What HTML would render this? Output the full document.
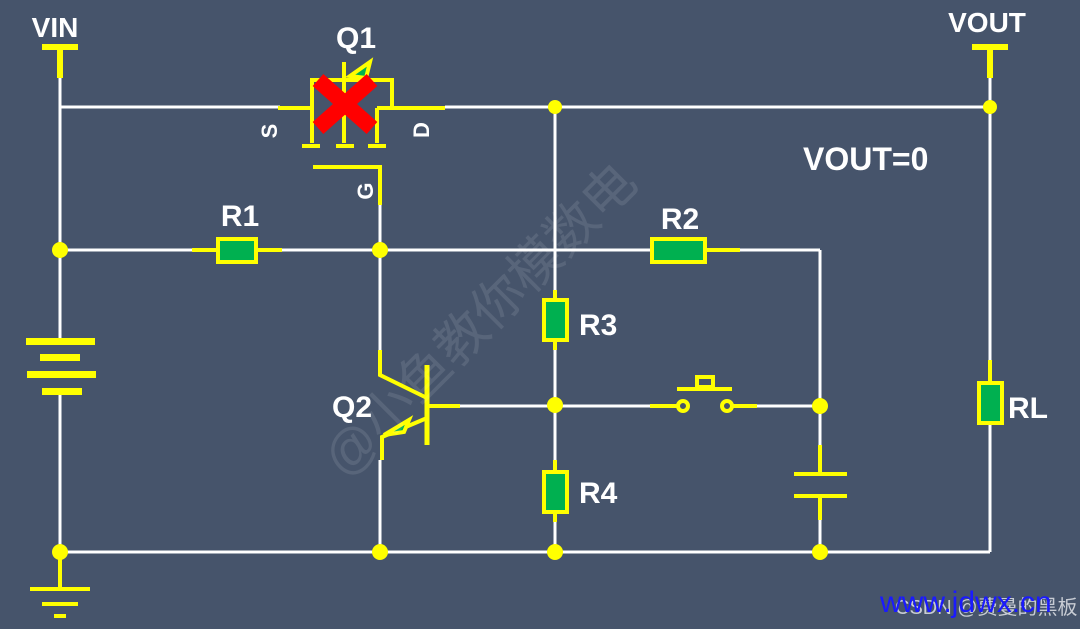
<!DOCTYPE html>
<html><head><meta charset="utf-8"><style>
html,body{margin:0;padding:0;background:#46546b;}
svg{display:block}
text{font-family:"Liberation Sans","Noto Sans CJK SC",sans-serif;font-weight:bold;fill:#fff}
</style></head><body>
<svg width="1080" height="629" viewBox="0 0 1080 629">
<rect width="1080" height="629" fill="#46546b"/>
<g stroke="#fff" stroke-width="3" fill="none">
<line x1="60" y1="107" x2="280" y2="107"/><line x1="445" y1="107" x2="990" y2="107"/>
<line x1="60" y1="75" x2="60" y2="340"/><line x1="60" y1="392" x2="60" y2="552"/>
<line x1="60" y1="552" x2="990" y2="552"/>
<line x1="60" y1="250" x2="192" y2="250"/><line x1="282" y1="250" x2="650" y2="250"/><line x1="740" y1="250" x2="820" y2="250"/>
<line x1="380" y1="205" x2="380" y2="350"/><line x1="380" y1="460" x2="380" y2="552"/>
<line x1="555" y1="107" x2="555" y2="290"/><line x1="555" y1="350" x2="555" y2="460"/><line x1="555" y1="522" x2="555" y2="552"/>
<line x1="460" y1="406" x2="650" y2="406"/><line x1="757" y1="406" x2="820" y2="406"/>
<line x1="820" y1="250" x2="820" y2="445"/><line x1="820" y1="520" x2="820" y2="552"/>
<line x1="990" y1="75" x2="990" y2="360"/><line x1="990" y1="425" x2="990" y2="552"/>
</g>
<g stroke="#ffff00" stroke-width="4" fill="none">
<line x1="42" y1="47" x2="78" y2="47" stroke-width="6"/><line x1="60" y1="47" x2="60" y2="78" stroke-width="6"/>
<line x1="972" y1="47" x2="1008" y2="47" stroke-width="6"/><line x1="990" y1="47" x2="990" y2="78" stroke-width="6"/>
<line x1="278" y1="108" x2="312" y2="108"/>
<polyline points="312,143 312,80 392,80 392,108"/>
<line x1="377" y1="108" x2="445" y2="108"/><line x1="377" y1="108" x2="377" y2="143"/>
<line x1="344" y1="62" x2="344" y2="143"/>
<line x1="302" y1="146" x2="320" y2="146"/><line x1="336" y1="146" x2="354" y2="146"/><line x1="368" y1="146" x2="386" y2="146"/>
<polyline points="313,167 380,167 380,205"/>
<line x1="192" y1="250" x2="282" y2="250"/>
<line x1="650" y1="250" x2="740" y2="250"/>
<line x1="555" y1="290" x2="555" y2="350"/><line x1="555" y1="460" x2="555" y2="522"/>
<line x1="990" y1="360" x2="990" y2="425"/>
<polyline points="380,350 380,375 427,398"/>
<line x1="427" y1="365" x2="427" y2="445" stroke-width="5"/>
<line x1="427" y1="406" x2="460" y2="406"/>
<polyline points="427,418 382,437 382,460"/>
<line x1="650" y1="406" x2="678" y2="406"/><line x1="732" y1="406" x2="757" y2="406"/>
<circle cx="683" cy="406" r="5"/><circle cx="727" cy="406" r="5"/>
<line x1="677" y1="389" x2="732" y2="389"/><rect x="697" y="377" width="16" height="10"/>
<line x1="820" y1="445" x2="820" y2="474"/><line x1="794" y1="474" x2="847" y2="474"/>
<line x1="794" y1="496" x2="847" y2="496"/><line x1="820" y1="496" x2="820" y2="520"/>
<line x1="60" y1="552" x2="60" y2="589"/>
</g>
<g fill="#ffff00">
<rect x="26" y="338" width="69" height="7"/><rect x="40" y="354" width="40" height="7"/>
<rect x="27" y="371" width="69" height="7"/><rect x="42" y="388" width="40" height="7"/>
<rect x="30" y="587" width="60" height="4"/><rect x="42" y="602" width="36" height="4"/><rect x="54" y="614" width="12" height="4"/>
<circle cx="60" cy="250" r="8"/><circle cx="380" cy="250" r="8"/><circle cx="555" cy="107" r="7"/><circle cx="990" cy="107" r="7"/>
<circle cx="555" cy="405" r="8"/><circle cx="820" cy="406" r="8"/>
<circle cx="60" cy="552" r="8"/><circle cx="380" cy="552" r="8"/><circle cx="555" cy="552" r="8"/><circle cx="820" cy="552" r="8"/>
</g>
<g fill="#00b050" stroke="#ffff00" stroke-width="4">
<rect x="218" y="239" width="38" height="23"/>
<rect x="652" y="239" width="53" height="23"/>
<rect x="544" y="300" width="23" height="40"/>
<rect x="544" y="472" width="23" height="40"/>
<rect x="979" y="383" width="23" height="40"/>
<polygon points="384,435 409,420 404,432"/>
<polygon points="350,76 370,62 366,78"/>
</g>
<g stroke="#ff0000" stroke-width="16" stroke-linecap="butt">
<line x1="318" y1="80" x2="372" y2="128"/><line x1="372" y1="80" x2="318" y2="128"/>
</g>
<text x="55" y="37" font-size="28" text-anchor="middle">VIN</text>
<text x="987" y="32" font-size="28" text-anchor="middle">VOUT</text>
<text x="356" y="48" font-size="30" text-anchor="middle">Q1</text>
<text transform="translate(277,131) rotate(-90)" font-size="22" text-anchor="middle">S</text>
<text transform="translate(429,130) rotate(-90)" font-size="22" text-anchor="middle">D</text>
<text transform="translate(373,191) rotate(-90)" font-size="22" text-anchor="middle">G</text>
<text x="240" y="226" font-size="30" text-anchor="middle">R1</text>
<text x="680" y="229" font-size="30" text-anchor="middle">R2</text>
<text x="579" y="335" font-size="30">R3</text>
<text x="579" y="503" font-size="30">R4</text>
<text x="352" y="417" font-size="30" text-anchor="middle">Q2</text>
<text x="1008" y="418" font-size="30">RL</text>
<text x="803" y="170" font-size="32">VOUT=0</text>
<text transform="translate(345,480) rotate(-45)" font-size="52" style="font-weight:normal;fill:rgba(255,255,255,0.10)">@小鱼教你模数电</text>
<text x="895" y="614" font-size="20" style="font-weight:normal;fill:#c8ccd4">CSDN @费曼的黑板</text>
<text x="880" y="612" font-size="30" style="font-weight:normal;fill:#1a1aff">www.jdwx.cn</text>
</svg>
</body></html>
